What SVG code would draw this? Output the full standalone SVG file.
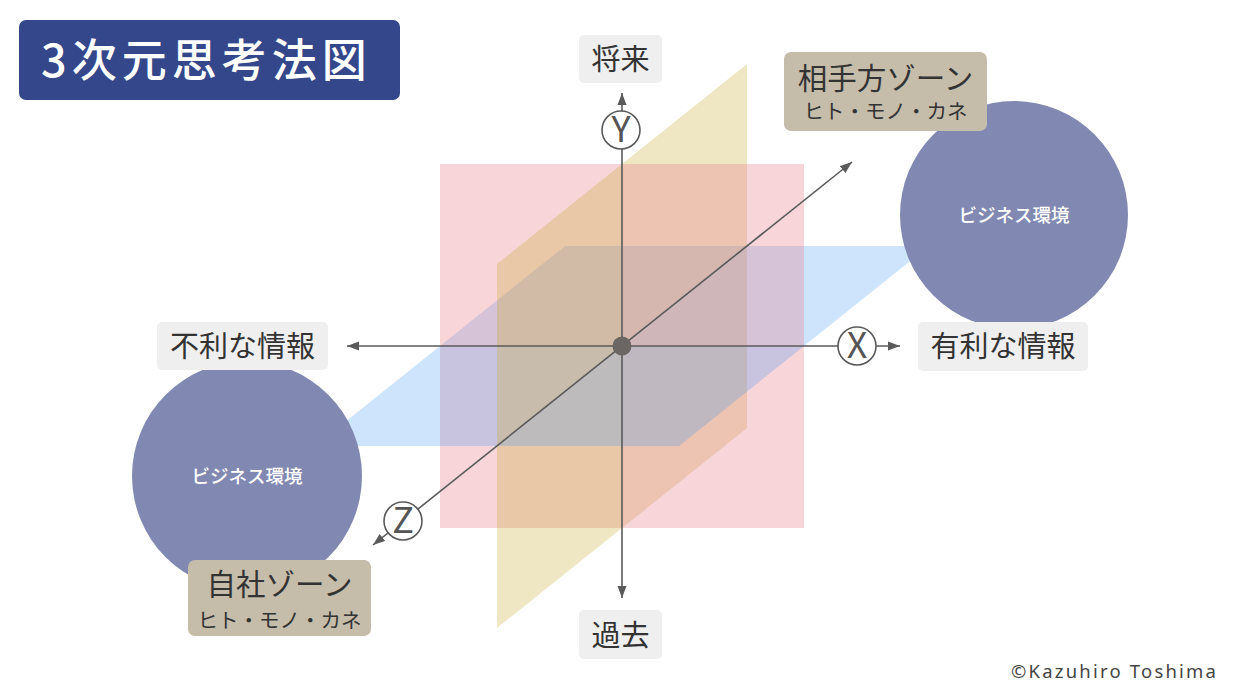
<svg xmlns="http://www.w3.org/2000/svg" width="1240" height="698" viewBox="0 0 1240 698">
<defs>
<style>
.jp{font-family:"Noto Sans CJK JP","Noto Sans",sans-serif;}
.pk{fill:#e8808c;fill-opacity:0.33;}
.yl{fill:#c8a830;fill-opacity:0.29;}
.bl{fill:#3a94f2;fill-opacity:0.25;}
.ax{stroke:#5a5a5a;stroke-width:1.6;fill:none;}
.axc{fill:#fff;stroke:#5a5a5a;stroke-width:1.6;}
.axt{font-size:36px;fill:#555;text-anchor:middle;}
.lbl{fill:#efefef;}
.lt{font-size:29px;fill:#333;text-anchor:middle;}
.zone{fill:#c5bcaa;}
.zt1{font-size:29.5px;fill:#333;text-anchor:middle;}
.zt2{font-size:20.5px;fill:#333;text-anchor:middle;}
.env{fill:#8189b2;}
.envt{font-size:18.5px;fill:#fff;text-anchor:middle;font-weight:500;}
</style>
<marker id="ah" viewBox="0 0 12 10" refX="12" refY="5" markerWidth="12" markerHeight="10" markerUnits="userSpaceOnUse" orient="auto-start-reverse">
<path d="M0,0.5 L12,5 L0,9.5 z" fill="#5a5a5a"/>
</marker>
</defs>
<rect width="1240" height="698" fill="#fff"/>

<g id="title">
<rect x="19" y="20" width="381" height="80" rx="7" fill="#34478a"/>
<text class="jp" x="41" y="77" font-size="45" letter-spacing="5" font-weight="500" fill="#fff">3次元思考法図</text>
</g>

<g id="planes">
<polygon class="pk" points="622,346 440,346 440,528 622,528"/>
<polygon class="bl" points="622,346 440,346 565,246 747,246"/>
<polygon class="yl" points="622,346 622,528 747,428 747,246"/>
<polygon class="pk" points="622,346 440,346 440,164 622,164"/>
<polygon class="bl" points="622,346 440,346 315,446 497,446"/>
<polygon class="yl" points="622,346 622,164 747,64 747,246"/>
<polygon class="yl" points="622,346 622,528 497,628 497,446"/>
<polygon class="pk" points="622,346 804,346 804,528 622,528"/>
<polygon class="bl" points="622,346 804,346 929,246 747,246"/>
<polygon class="yl" points="622,346 622,164 497,264 497,446"/>
<polygon class="pk" points="622,346 804,346 804,164 622,164"/>
<polygon class="bl" points="622,346 804,346 679,446 497,446"/>
</g>

<g id="env-right">
<circle class="env" cx="1014" cy="215" r="114"/>
<text class="jp envt" x="1014" y="222">ビジネス環境</text>
</g>
<g id="env-left">
<circle class="env" cx="247" cy="476" r="115"/>
<text class="jp envt" x="247" y="483">ビジネス環境</text>
</g>

<g id="connectors">
<line class="ax" x1="622" y1="93" x2="622" y2="598" marker-start="url(#ah)" marker-end="url(#ah)"/>
<line class="ax" x1="347" y1="346" x2="900" y2="346" marker-start="url(#ah)" marker-end="url(#ah)"/>
<line class="ax" x1="373" y1="545" x2="852" y2="162" marker-start="url(#ah)" marker-end="url(#ah)"/>
<circle cx="622" cy="346" r="9.5" fill="#6b6563"/>
</g>

<g id="axis-y">
<circle class="axc" cx="621" cy="130" r="19"/>
<text class="jp axt" x="621" y="142">Y</text>
</g>
<g id="axis-x">
<circle class="axc" cx="857" cy="346" r="19"/>
<text class="jp axt" x="857" y="358">X</text>
</g>
<g id="axis-z">
<circle class="axc" cx="403" cy="521" r="19"/>
<text class="jp axt" x="403" y="533">Z</text>
</g>

<g id="label-future">
<rect class="lbl" x="579" y="35" width="83" height="48" rx="5"/>
<text class="jp lt" x="620.5" y="69.5">将来</text>
</g>
<g id="label-past">
<rect class="lbl" x="579" y="610" width="83" height="49" rx="5"/>
<text class="jp lt" x="620.5" y="645.5">過去</text>
</g>
<g id="label-disadv">
<rect class="lbl" x="157" y="322" width="171" height="48" rx="5"/>
<text class="jp lt" x="242.5" y="356.5">不利な情報</text>
</g>
<g id="label-adv">
<rect class="lbl" x="918" y="322" width="170" height="49" rx="5"/>
<text class="jp lt" x="1003" y="357">有利な情報</text>
</g>

<g id="zone-other">
<rect class="zone" x="784" y="52" width="203" height="79" rx="7"/>
<text class="jp zt1" x="885.5" y="88.5">相手方ゾーン</text>
<text class="jp zt2" x="885.5" y="119">ヒト・モノ・カネ</text>
</g>
<g id="zone-self">
<rect class="zone" x="188" y="560" width="183" height="76" rx="7"/>
<text class="jp zt1" x="279.5" y="594.5">自社ゾーン</text>
<text class="jp zt2" x="279.5" y="628">ヒト・モノ・カネ</text>
</g>

<text x="1011" y="678" font-family="'Noto Sans',sans-serif" font-size="18.5" letter-spacing="2.2" fill="#444">©Kazuhiro Toshima</text>
</svg>
